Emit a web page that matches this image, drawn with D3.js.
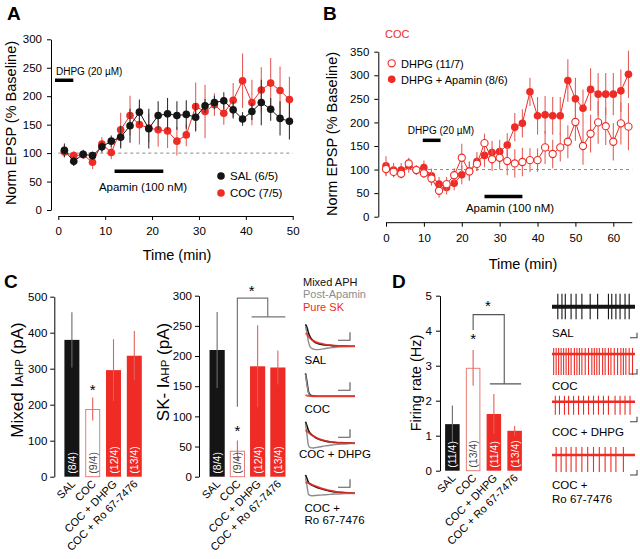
<!DOCTYPE html>
<html><head><meta charset="utf-8">
<script src="https://cdn.jsdelivr.net/npm/d3@7"></script>
<style>
body{margin:0;background:#fff}
svg{display:block;font-family:"Liberation Sans",Arial,Helvetica,sans-serif}
</style>
</head><body>
<svg id="fig" width="640" height="559"></svg>
<script>
// ---------------- DATA ----------------
// Panel A
const timeA = [1.3,3.3,5.3,7.3,9.3,11.3,13.3,15.3,17.3,19.3,21.3,23.3,25.3,27.3,29.3,31.3,33.3,35.3,37.3,39.3,41.3,43.3,45.3,47.3,49.3];
const salA    = [105,85.5,98,95.5,111,121,128,148,172,143,166,169,166,168,163,183,189,192,176,160,173,189,177,161,156];
const salAErr = [12,8,8,7,10,10,20,30,22,35,25,28,25,25,25,12,12,15,15,12,15,40,20,30,32];
const cocA    = [102,95.5,97,84,116,101,141,166,150,144,141,139,121,132,182,173,185,170,193,227,189,211,223,210,194];
const cocAErr = [10,8,5,12,12,12,30,35,35,25,30,30,25,20,42,47,20,20,30,48,40,40,44,42,40];
const ticksA_x = [0,10,20,30,40,50];
const ticksA_y = [0,50,100,150,200,250,300];
// Panel B
const timeB = [0,2,4,6,8,10,12,14,16,18,20,22,24,26,28,30,32,34,36,38,40,42,44,46,48,50,52,54,56,58,60,62,64];
const apaB    = [108,99,99,108,99,104,87,69,62,71,89,97,117,130,136,138,152,190,198,265,214,216,214,214,289,250,230,270,260,260,260,267,302];
const apaBErr = [20,15,15,15,10,15,15,15,15,15,20,20,20,25,25,25,25,30,30,30,40,40,40,40,45,45,40,45,45,45,45,45,50];
const dhpgB    = [101,95,91,113,99,92,81,55,69,88,125,96,112,156,122,125,118,113,116,120,120,147,133,147,159,201,150,176,200,192,159,198,191];
const dhpgBErr = [15,12,10,12,10,10,15,15,15,15,30,20,15,20,25,25,30,30,30,25,25,35,30,30,35,40,40,40,45,40,40,45,50];
const ticksB_x = [0,10,20,30,40,50,60];
const ticksB_y = [0,50,100,150,200,250,300,350];
// Panels C & D bar charts
const groups = ["SAL","COC","COC + DHPG","COC + Ro 67-7476"];
const mixedVals = [380,188,296,336];
const mixedErr  = [77,32,86,69];
const mixedN    = ["(8/4)","(9/4)","(12/4)","(13/4)"];
const skVals = [210,43,183,181];
const skErr  = [63,17,68,28];
const skN    = ["(8/4)","(9/4)","(12/4)","(13/4)"];
const fireVals = [1.33,2.94,1.62,1.14];
const fireErr  = [0.53,0.51,0.57,0.14];
const fireN    = ["(11/4)","(13/4)","(11/4)","(13/4)"];
const ticksMixed = [0,100,200,300,400,500];
const ticksSK = [0,50,100,150,200,250,300];
const ticksFire = [0,1,2,3,4,5];
// AHP example traces (normalized time, normalized amplitude)
const traceT = [0,0.03,0.06,0.1,0.15,0.2,0.3,0.4,0.5,0.6,0.8,1.0];
const traceLabels = ["SAL","COC","COC + DHPG","COC +|Ro 67-7476"];
const mixedTr = [
  [1.0,0.85,0.6,0.4,0.25,0.17,0.1,0.06,0.04,0.02,0.01,0],
  [1.0,0.6,0.2,0.05,0.02,0.01,0,0,0,0,0,0],
  [1.0,0.8,0.6,0.45,0.35,0.27,0.17,0.1,0.06,0.04,0.02,0],
  [1.0,0.8,0.6,0.5,0.42,0.36,0.26,0.18,0.12,0.07,0.03,0]];
const postApaTr = [
  [0.9,0.6,0.2,-0.05,-0.12,-0.15,-0.14,-0.1,-0.07,-0.04,-0.02,0],
  [0.95,0.5,0.15,0.02,0,0,0,0,0,0,0,0],
  [0.9,0.4,-0.1,-0.2,-0.22,-0.2,-0.16,-0.12,-0.09,-0.06,-0.03,0],
  [0.85,0.4,-0.05,-0.12,-0.13,-0.12,-0.1,-0.08,-0.06,-0.04,-0.02,0]];
const pureSKTr = [
  [0.6,0.55,0.45,0.35,0.27,0.2,0.13,0.08,0.05,0.03,0.01,0],
  [0.05,0.03,0.02,0.01,0,0,0,0,0,0,0,0],
  [0.6,0.55,0.5,0.42,0.35,0.28,0.18,0.11,0.07,0.04,0.02,0],
  [0.6,0.58,0.55,0.5,0.45,0.4,0.3,0.22,0.15,0.09,0.04,0]];
// firing example traces: spike times (fraction of sweep)
const spikeLabels = ["SAL","COC","COC + DHPG","COC +|Ro 67-7476"];
const spikeTimes = [
  [0.07,0.12,0.16,0.23,0.29,0.36,0.46,0.55,0.68,0.72,0.77,0.82,0.88,0.93],
  [0.02,0.05,0.08,0.11,0.14,0.17,0.2,0.23,0.27,0.3,0.33,0.36,0.4,0.44,0.48,0.51,0.54,0.57,0.61,0.64,0.68,0.71,0.75,0.79,0.83,0.86,0.89,0.93,0.97],
  [0.04,0.09,0.15,0.2,0.26,0.32,0.38,0.44,0.5,0.56,0.62,0.68,0.76,0.82,0.88,0.94],
  [0.05,0.11,0.17,0.23,0.29,0.36,0.43,0.5,0.57,0.64,0.71,0.77,0.86]];

// ---------------- STYLE ----------------
const RED = "#ee2b24", RED_ERR = "#e4605a", BLK = "#151515", GRAY = "#8a8a8a";
const svg = d3.select("#fig");

function panelLetter(t,x,y){ svg.append("text").attr("x",x).attr("y",y).attr("font-size",19).attr("font-weight","bold").text(t); }
function styleAxis(g,fs){ g.attr("font-family",null); g.selectAll("path,line").attr("stroke","#000").attr("stroke-width",1); g.selectAll("text").attr("font-size",fs).attr("fill","#000"); }
function yTitle(x,y,parts,fs){
  const t = svg.append("text").attr("transform",`translate(${x},${y}) rotate(-90)`).attr("text-anchor","middle").attr("font-size",fs);
  parts.forEach(p=>{ const s=t.append("tspan").text(p.t); if(p.sub) s.attr("font-size",fs*0.68); });
}

// ---------------- PANEL A ----------------
panelLetter("A",7,20);
const xA = d3.scaleLinear().domain([0,50]).range([58.3,292.7]);
const yA = d3.scaleLinear().domain([0,300]).range([210,39.3]);
styleAxis(svg.append("g").attr("transform","translate(51,0)").call(d3.axisLeft(yA).tickValues(ticksA_y).tickFormat(d3.format("d")).tickSize(4).tickSizeOuter(0).tickPadding(5)),11.5);
styleAxis(svg.append("g").attr("transform","translate(0,216)").call(d3.axisBottom(xA).tickValues(ticksA_x).tickFormat(d3.format("d")).tickSize(4).tickSizeOuter(0).tickPadding(7)),11.5);
svg.append("line").attr("x1",xA(0)).attr("x2",xA(50)).attr("y1",yA(100)).attr("y2",yA(100)).attr("stroke",GRAY).attr("stroke-dasharray","3,3");
yTitle(15.5,123,[{t:"Norm EPSP (% Baseline)"}],14.5);
svg.append("text").attr("x",177).attr("y",260).attr("text-anchor","middle").attr("font-size",14.5).text("Time (min)");
svg.append("line").attr("x1",xA(-0.7)).attr("x2",xA(3.2)).attr("y1",yA(228)).attr("y2",yA(228)).attr("stroke","#000").attr("stroke-width",3.5);
svg.append("text").attr("x",56).attr("y",75).attr("font-size",10).text("DHPG (20 µM)");
svg.append("line").attr("x1",xA(12)).attr("x2",xA(22.4)).attr("y1",yA(68)).attr("y2",yA(68)).attr("stroke","#000").attr("stroke-width",3.5);
svg.append("text").attr("x",143).attr("y",191).attr("text-anchor","middle").attr("font-size",11.5).text("Apamin (100 nM)");
function series(xs,ys,es,x,y,col,errCol,fill,r){
  const g = svg.append("g");
  g.selectAll("line.e").data(xs).join("line").attr("x1",d=>x(d)).attr("x2",d=>x(d))
    .attr("y1",(d,i)=>y(ys[i]-es[i])).attr("y2",(d,i)=>y(ys[i]+es[i])).attr("stroke",errCol).attr("stroke-width",1.1);
  g.append("path").attr("d",d3.line().x((d,i)=>x(xs[i])).y((d,i)=>y(ys[i]))(ys)).attr("fill","none").attr("stroke",col).attr("stroke-width",1);
  g.selectAll("circle").data(xs).join("circle").attr("cx",d=>x(d)).attr("cy",(d,i)=>y(ys[i])).attr("r",r)
    .attr("fill",fill).attr("stroke",col).attr("stroke-width",fill==="#fff"?1.1:0);
}
series(timeA,cocA,cocAErr,xA,yA,RED,RED_ERR,RED,3.8);
series(timeA,salA,salAErr,xA,yA,BLK,"#333",BLK,3.8);
svg.append("circle").attr("cx",221).attr("cy",176).attr("r",3.8).attr("fill",BLK);
svg.append("text").attr("x",230).attr("y",180).attr("font-size",11.5).text("SAL (6/5)");
svg.append("circle").attr("cx",221).attr("cy",193).attr("r",3.8).attr("fill",RED);
svg.append("text").attr("x",230).attr("y",197).attr("font-size",11.5).text("COC (7/5)");

// ---------------- PANEL B ----------------
panelLetter("B",323,20);
const xB = d3.scaleLinear().domain([0,60]).range([386,613.3]);
const yB = d3.scaleLinear().domain([0,350]).range([216.7,51.7]);
styleAxis(svg.append("g").attr("transform","translate(378.3,0)").call(d3.axisLeft(yB).tickValues(ticksB_y).tickFormat(d3.format("d")).tickSize(4).tickSizeOuter(0).tickPadding(5)),11.5);
const gxB = svg.append("g").attr("transform","translate(0,222.7)").call(d3.axisBottom(xB).tickValues(ticksB_x).tickFormat(d3.format("d")).tickSize(4).tickSizeOuter(0).tickPadding(7));
gxB.select("path.domain").attr("d",`M${xB(0)},0H${xB(65)}`);
styleAxis(gxB,11.5);
svg.append("line").attr("x1",xB(0)).attr("x2",xB(65)).attr("y1",yB(100)).attr("y2",yB(100)).attr("stroke",GRAY).attr("stroke-dasharray","3,3");
yTitle(337,134,[{t:"Norm EPSP (% Baseline)"}],14.5);
svg.append("text").attr("x",523).attr("y",269).attr("text-anchor","middle").attr("font-size",14.5).text("Time (min)");
svg.append("text").attr("x",385).attr("y",38).attr("font-size",11).attr("fill",RED).text("COC");
svg.append("line").attr("x1",xB(9.7)).attr("x2",xB(14.4)).attr("y1",yB(162)).attr("y2",yB(162)).attr("stroke","#000").attr("stroke-width",3.5);
svg.append("text").attr("x",441).attr("y",134).attr("text-anchor","middle").attr("font-size",10).text("DHPG (20 µM)");
svg.append("line").attr("x1",xB(26)).attr("x2",xB(36)).attr("y1",yB(43)).attr("y2",yB(43)).attr("stroke","#000").attr("stroke-width",3.5);
svg.append("text").attr("x",510).attr("y",212).attr("text-anchor","middle").attr("font-size",11.5).text("Apamin (100 nM)");
series(timeB,apaB,apaBErr,xB,yB,RED,RED_ERR,RED,3.8);
series(timeB,dhpgB,dhpgBErr,xB,yB,RED,RED_ERR,"#fff",3.6);
svg.append("circle").attr("cx",391.7).attr("cy",63.3).attr("r",3.6).attr("fill","#fff").attr("stroke",RED).attr("stroke-width",1.1);
svg.append("text").attr("x",401).attr("y",67.5).attr("font-size",11).text("DHPG (11/7)");
svg.append("circle").attr("cx",391.7).attr("cy",79.3).attr("r",3.8).attr("fill",RED);
svg.append("text").attr("x",401).attr("y",83.5).attr("font-size",11).text("DHPG + Apamin (8/6)");

// ---------------- BAR CHART helper ----------------
function barChart(opt){
  const x = d3.scaleBand().domain(groups).range(opt.xr).paddingInner(opt.pi).paddingOuter(opt.po);
  const y = d3.scaleLinear().domain(opt.dom).range([opt.y0,opt.y1]);
  styleAxis(svg.append("g").attr("transform",`translate(${opt.ax},0)`).call(d3.axisLeft(y).tickValues(opt.ticks).tickFormat(d3.format("d")).tickSize(4).tickSizeOuter(0).tickPadding(opt.pad)),11.5);
  const g = svg.append("g");
  groups.forEach((c,i)=>{
    const v=opt.vals[i], e=opt.err[i], bx=x(c), bw=x.bandwidth(), cx=bx+bw/2;
    const open = i===1;
    const fill = i===0?BLK:(open?"#fff":RED);
    g.append("rect").attr("x",open?bx+0.5:bx).attr("y",y(v)+(open?0.5:0)).attr("width",open?bw-1:bw).attr("height",y(0)-y(v)-(open?0.5:0))
      .attr("fill",fill).attr("stroke",open?"#e87c78":"none").attr("stroke-width",1);
    const ec = i===0?"#6a6a6a":RED_ERR;
    g.append("line").attr("x1",cx).attr("x2",cx).attr("y1",y(v+e)).attr("y2",y(v-e)).attr("stroke",ec).attr("stroke-width",1.1);
    g.append("text").attr("transform",`translate(${cx+4},${y(0)-3}) rotate(-90)`).attr("font-size",10.5)
      .attr("fill",open?"#444":"#fff").text(opt.n[i]);
    g.append("text").attr("transform",`translate(${cx+4},${y(0)+8}) rotate(-45)`).attr("text-anchor","end").attr("font-size",11).text(c);
  });
  return {x,y};
}

// ---------------- PANEL C ----------------
panelLetter("C",4,288);
const mx = barChart({xr:[61.5,144.7],pi:0.28,po:0.14,dom:[0,500],y0:476.7,y1:296.7,ax:54.3,ticks:ticksMixed,pad:3,vals:mixedVals,err:mixedErr,n:mixedN});
yTitle(22.5,380,[{t:"Mixed I"},{t:"AHP",sub:true},{t:" (pA)"}],17);
svg.append("text").attr("x",mx.x(groups[1])+mx.x.bandwidth()/2).attr("y",395).attr("text-anchor","middle").attr("font-size",15).text("*");
const sk = barChart({xr:[205.5,289.5],pi:0.25,po:0.2,dom:[0,300],y0:476.7,y1:295.7,ax:199,ticks:ticksSK,pad:3,vals:skVals,err:skErr,n:skN});
yTitle(169,372,[{t:"SK- I"},{t:"AHP",sub:true},{t:" (pA)"}],17);
{
  const x = sk.x, y = sk.y, bw = x.bandwidth();
  const cC = x(groups[1])+bw/2, cD = x(groups[2])+bw/2, cR = x(groups[3])+bw/2;
  svg.append("path").attr("d",`M${cC},${y(116)}V${y(296)}H${(cD+cR)/2}V${y(265)}M${cD-6},${y(265)}H${cR+7.5}`).attr("fill","none").attr("stroke","#777").attr("stroke-width",1.2);
  svg.append("text").attr("x",cC).attr("y",436).attr("text-anchor","middle").attr("font-size",15).text("*");
  svg.append("text").attr("x",251.7).attr("y",296).attr("text-anchor","middle").attr("font-size",15).text("*");
}
// AHP traces
svg.append("text").attr("x",303).attr("y",286).attr("font-size",11).attr("fill","#111").text("Mixed APH");
svg.append("text").attr("x",303).attr("y",297.5).attr("font-size",11).attr("fill","#8c8c8c").text("Post-Apamin");
svg.append("text").attr("x",303).attr("y",311).attr("font-size",11).attr("fill",RED).text("Pure SK");
const trBase = [346.3,396.3,443.3,493.3], trH = [22,23,21.6,18.3], trLab = [364,413,458,511.5];
const xTr = d3.scaleLinear().domain([0,1]).range([305.5,355]);
trBase.forEach((b,k)=>{
  const yTr = d3.scaleLinear().domain([0,1]).range([b,b-trH[k]]);
  const ln = d3.line().x((d,i)=>xTr(traceT[i])).y(d=>yTr(d)).curve(d3.curveMonotoneX);
  svg.append("path").attr("d",ln(mixedTr[k])).attr("fill","none").attr("stroke","#111").attr("stroke-width",1.6);
  svg.append("path").attr("d",ln(postApaTr[k])).attr("fill","none").attr("stroke","#8c8c8c").attr("stroke-width",1.4);
  svg.append("path").attr("d",ln(pureSKTr[k])).attr("fill","none").attr("stroke",RED).attr("stroke-width",1.8).attr("stroke-opacity",0.85);
  svg.append("path").attr("d",`M338,${b-6}H350V${b-14}`).attr("fill","none").attr("stroke","#555").attr("stroke-width",1.1);
  traceLabels[k].split("|").forEach((p,j)=>svg.append("text").attr("x",k===2?299:304.5).attr("y",trLab[k]+j*12.5).attr("font-size",11.5).text(p));
});

// ---------------- PANEL D ----------------
panelLetter("D",392,288);
const fd = barChart({xr:[442,525],pi:0.3,po:0.15,dom:[0,5],y0:470.7,y1:295.7,ax:440,ticks:ticksFire,pad:4,vals:fireVals,err:fireErr,n:fireN});
yTitle(421,383,[{t:"Firing rate (Hz)"}],14.5);
{
  const x=fd.x, y=fd.y, bw=x.bandwidth();
  const c1=x(groups[1])+bw/2, c2=x(groups[2])+bw/2, c3=x(groups[3])+bw/2;
  svg.append("path").attr("d",`M${c1},${y(4.02)}V${y(4.46)}H${(c2+c3)/2}V${y(2.48)}M${c2-4},${y(2.48)}H${c3+6.5}`).attr("fill","none").attr("stroke","#555").attr("stroke-width",1.1);
  svg.append("text").attr("x",c1).attr("y",y(3.62)).attr("text-anchor","middle").attr("font-size",15).text("*");
  svg.append("text").attr("x",488).attr("y",y(4.55)).attr("text-anchor","middle").attr("font-size",15).text("*");
}
// spike traces
const spBase = [306.7,354,401.7,455], spUp=[13,6,6,8], spDn=[12.6,21,13,17], spLab=[337,390,436,489];
const spCol = [BLK,RED,RED,RED];
const xSp = d3.scaleLinear().domain([0,1]).range([552,635]);
spBase.forEach((b,k)=>{
  svg.append("line").attr("x1",xSp(0)).attr("x2",xSp(1)).attr("y1",b).attr("y2",b).attr("stroke",spCol[k]).attr("stroke-width",k===0?4:2.5);
  svg.selectAll(null).data(spikeTimes[k]).join("line").attr("x1",d=>xSp(d)).attr("x2",d=>xSp(d))
    .attr("y1",b-spUp[k]).attr("y2",b+spDn[k]).attr("stroke",spCol[k]).attr("stroke-width",1.1);
  const sb = k===0?27:16;
  svg.append("path").attr("d",`M630,${b+sb+4}H637V${b+sb-1}`).attr("fill","none").attr("stroke","#444").attr("stroke-width",1.1);
  spikeLabels[k].split("|").forEach((p,j)=>svg.append("text").attr("x",552).attr("y",spLab[k]+j*13.5).attr("font-size",11.5).text(p));
});
</script>
</body></html>
